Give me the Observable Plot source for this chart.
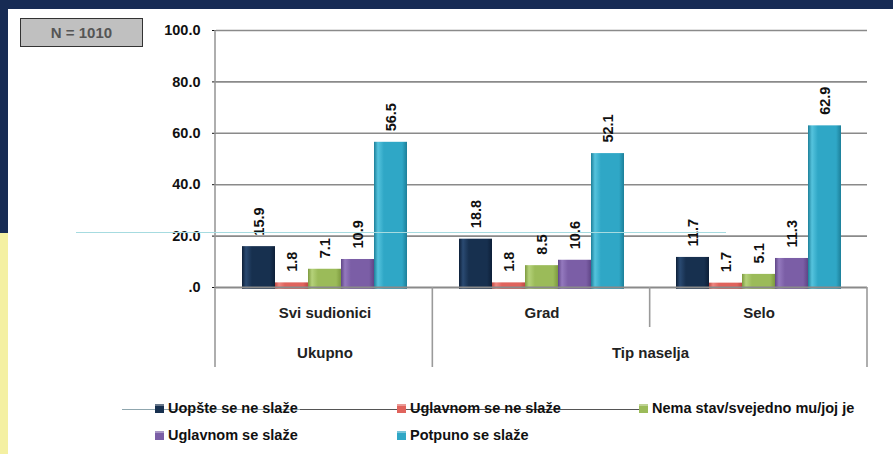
<!DOCTYPE html>
<html>
<head>
<meta charset="utf-8">
<script src="https://cdn.jsdelivr.net/npm/d3@7"></script>
<script src="https://cdn.jsdelivr.net/npm/@observablehq/plot@0.6"></script>
<style>
  html, body { margin: 0; padding: 0; background: #fff; }
  #page { position: relative; width: 893px; height: 454px; overflow: hidden; background: #fff;
    font-family: "Liberation Sans", Arial, sans-serif; }
  .band-top { position: absolute; left: 0; top: 0; width: 893px; height: 9px; background: #172b54; }
  .band-left { position: absolute; left: 0; top: 0; width: 8px; height: 233px; background: #172b54; }
  .band-yellow { position: absolute; left: 0; top: 233px; width: 8px; height: 221px; background: #f4f0a2; }
  .nbox { position: absolute; left: 20px; top: 18px; width: 121px; height: 27px; background: #c0c0c0;
    border: 1px solid #333; color: #555; font-weight: bold; font-size: 15px; line-height: 27px; text-align: center; }
  #chart { position: absolute; left: 0; top: 0; }
  .deco1 { position: absolute; left: 76px; top: 232px; width: 650px; height: 1px; background: #a6dbe0; }
  .deco2 { position: absolute; left: 122px; top: 409px; width: 180px; height: 1px; background: #8fa6ae; }
  .deco3 { position: absolute; left: 300px; top: 409px; width: 342px; height: 1px; background: #555; }
  .legend { position: absolute; left: 0; top: 0; }
  .li { position: absolute; font-weight: bold; font-size: 14.5px; color: #111; white-space: nowrap; line-height: 18px; }
  .sw { display: inline-block; width: 9px; height: 9px; margin-right: 4px; vertical-align: 0px; box-shadow: inset 0 2px 0 rgba(255,255,255,0.35); }
</style>
</head>
<body>
<div id="page">
  <div class="band-top"></div>
  <div class="band-left"></div>
  <div class="band-yellow"></div>
  <div class="nbox">N = 1010</div>
  <div id="chart"></div>
  <div class="deco1"></div>
  <div class="deco2"></div>
  <div class="deco3"></div>
  <div class="legend" id="legend"></div>
</div>
<script>
const groups = ["Svi sudionici", "Grad", "Selo"];
const series = ["Uopšte se ne slaže", "Uglavnom se ne slaže", "Nema stav/svejedno mu/joj je", "Uglavnom se slaže", "Potpuno se slaže"];
const sviValues = [15.9, 1.8, 7.1, 10.9, 56.5];
const gradValues = [18.8, 1.8, 8.5, 10.6, 52.1];
const seloValues = [11.7, 1.7, 5.1, 11.3, 62.9];
const superGroups = ["Ukupno", "Tip naselja"];
const yTicks = [0, 20, 40, 60, 80, 100];
const seriesColors = ["#17304f", "#e0635c", "#9bbb59", "#7b5ea6", "#2fa7c6"];
const seriesEdge = ["#0d1f38", "#c04a44", "#7d9a3f", "#5f4586", "#1c7f99"];
const seriesLight = ["#2a4a72", "#ee8680", "#b5d27a", "#9479be", "#55c3dd"];

const valueByGroup = [sviValues, gradValues, seloValues];
const data = [];
groups.forEach((g, gi) => series.forEach((s, si) => data.push({group: g, series: s, value: valueByGroup[gi][si]})));

const gradIds = series.map((s, i) => "grad" + i);

const W = 893, H = 380;
const plot = Plot.plot({
  width: W, height: H,
  marginLeft: 215, marginRight: 26, marginTop: 30, marginBottom: 93,
  style: {fontFamily: "'Liberation Sans', Arial, sans-serif", fontSize: "14.5px", fontWeight: "bold", color: "#111", background: "transparent"},
  fx: {domain: groups, padding: 0, axis: null},
  x: {domain: series, paddingInner: 0, paddingOuter: 0.77, axis: null},
  y: {domain: [0, 100], ticks: yTicks, tickFormat: d => d === 0 ? ".0" : d.toFixed(1), label: null, tickSize: 4, tickPadding: 12},
  color: {domain: series, range: gradIds.map(id => `url(#${id})`)},
  facet: {data: data, x: "group"},
  marks: [
    Plot.ruleY(yTicks.filter(d => d > 0), {stroke: "#8a8a8a", strokeWidth: 1.6}),
    Plot.barY(data, {x: "series", y: "value", fill: "series", insetBottom: -2}),
    Plot.ruleY([0], {stroke: "#8a8a8a", strokeWidth: 2}),
    Plot.text(data, {x: "series", y: "value", text: d => d.value.toFixed(1), rotate: -90, textAnchor: "start", dy: -11, fontSize: 14.5, fontWeight: "bold", fill: "#111"}),
    Plot.text(groups.map(g => ({group: g})), {fx: "group", text: "group", frameAnchor: "bottom", dy: 30, fontSize: 15, fontWeight: "bold", fill: "#222"}),
    Plot.text([{group: groups[0], label: superGroups[0]}], {fx: "group", text: "label", frameAnchor: "bottom", dy: 70, fontSize: 15, fontWeight: "bold", fill: "#222"}),
    Plot.text([{group: groups[1], label: superGroups[1]}], {fx: "group", text: "label", frameAnchor: "bottom-right", textAnchor: "middle", dy: 70, fontSize: 15, fontWeight: "bold", fill: "#222"})
  ]
});
document.getElementById("chart").appendChild(plot);

// gradients for bevelled bars
const svg = d3.select(plot);
const defs = svg.insert("defs", ":first-child");
series.forEach((s, i) => {
  const lg = defs.append("linearGradient").attr("id", gradIds[i]).attr("x1", 0).attr("x2", 1).attr("y1", 0).attr("y2", 0);
  lg.append("stop").attr("offset", "0%").attr("stop-color", seriesEdge[i]);
  lg.append("stop").attr("offset", "12%").attr("stop-color", seriesLight[i]);
  lg.append("stop").attr("offset", "30%").attr("stop-color", seriesColors[i]);
  lg.append("stop").attr("offset", "85%").attr("stop-color", seriesColors[i]);
  lg.append("stop").attr("offset", "100%").attr("stop-color", seriesEdge[i]);
});

// category axis separators (from the plot's own fx and y scales)
const fxs = plot.scale("fx");
const ys = plot.scale("y");
const band = d3.scaleBand().domain(fxs.domain).range(fxs.range).padding(0);
const y0 = ys.range[0];
const sep = svg.append("g").attr("stroke", "#9a9a9a").attr("stroke-width", 1.6);
const left = band(groups[0]);
const right = band(groups[groups.length - 1]) + band.bandwidth();
sep.append("line").attr("x1", left).attr("x2", left).attr("y1", ys.range[1]).attr("y2", y0 + 80);
sep.append("line").attr("x1", band(groups[1])).attr("x2", band(groups[1])).attr("y1", y0).attr("y2", y0 + 80);
sep.append("line").attr("x1", band(groups[2])).attr("x2", band(groups[2])).attr("y1", y0).attr("y2", y0 + 40);
sep.append("line").attr("x1", right).attr("x2", right).attr("y1", y0).attr("y2", y0 + 80);

// legend
const legendPos = [[155, 399], [397, 399], [639, 399], [155, 426], [397, 426]];
const legend = document.getElementById("legend");
series.forEach((s, i) => {
  const d = document.createElement("div");
  d.className = "li";
  d.style.left = legendPos[i][0] + "px";
  d.style.top = legendPos[i][1] + "px";
  d.innerHTML = `<span class="sw" style="background:${seriesColors[i]}"></span>${s}`;
  legend.appendChild(d);
});
</script>
</body>
</html>
